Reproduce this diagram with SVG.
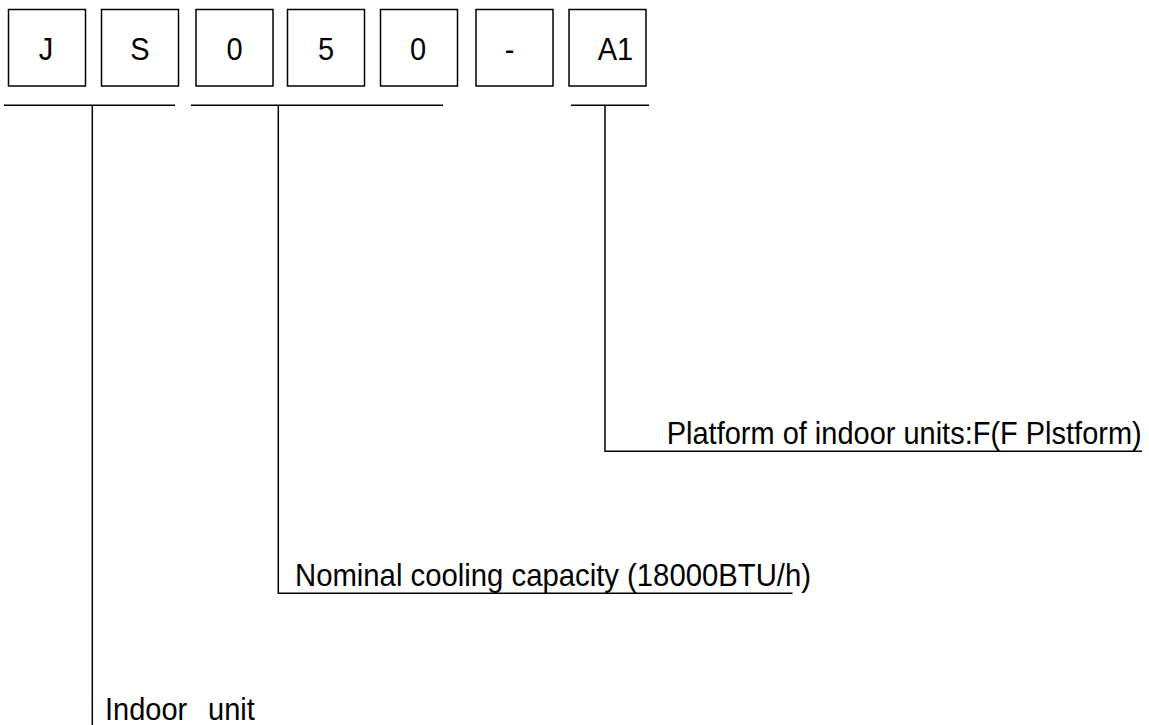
<svg xmlns="http://www.w3.org/2000/svg" width="1149" height="725" viewBox="0 0 1149 725">
<style>
.box{fill:#fff;stroke:#000;stroke-width:1.5}
.t{font-family:"Liberation Sans",Arial,sans-serif;font-size:29px;fill:#000}
.c{text-anchor:middle}
.ln{stroke:#000;stroke-width:1.5;fill:none}
</style>
<rect width="1149" height="725" fill="#fff"/>
<g id="box-J"><rect class="box" x="8.5" y="9.5" width="77" height="76.5"/><text class="t c" transform="translate(46,59.5) scale(1,1.09)">J</text></g>
<g id="box-S"><rect class="box" x="101.5" y="9.5" width="77" height="76.5"/><text class="t c" transform="translate(140,59.5) scale(1,1.09)">S</text></g>
<g id="box-0a"><rect class="box" x="196" y="9.5" width="77" height="76.5"/><text class="t c" transform="translate(234.5,59.5) scale(1,1.09)">0</text></g>
<g id="box-5"><rect class="box" x="287.5" y="9.5" width="77" height="76.5"/><text class="t c" transform="translate(326,59.5) scale(1,1.09)">5</text></g>
<g id="box-0b"><rect class="box" x="380.5" y="9.5" width="77" height="76.5"/><text class="t c" transform="translate(418,59.5) scale(1,1.09)">0</text></g>
<g id="box-dash"><rect class="box" x="476" y="9.5" width="77" height="76.5"/><text class="t c" transform="translate(509.5,59.5) scale(1,1.09)">-</text></g>
<g id="box-A1"><rect class="box" x="569" y="9.5" width="77" height="76.5"/><text class="t c" transform="translate(615.5,59.5) scale(1,1.09)">A1</text></g>
<g id="connectors">
<line class="ln" x1="4" y1="105.3" x2="175" y2="105.3"/>
<line class="ln" x1="191" y1="105.3" x2="443" y2="105.3"/>
<line class="ln" x1="571" y1="105.3" x2="649" y2="105.3"/>
<line class="ln" x1="92.3" y1="105.3" x2="92.3" y2="725"/>
<polyline class="ln" points="278.3,105.3 278.3,593.3 792.5,593.3"/>
<polyline class="ln" points="605,105.3 605,451.3 1142,451.3"/>
</g>
<g id="label-platform"><text class="t" transform="translate(666.7,444) scale(1,1.09)" textLength="475" lengthAdjust="spacingAndGlyphs">Platform of indoor units:F(F Plstform)</text></g>
<g id="label-nominal"><text class="t" transform="translate(295,586) scale(1,1.09)" textLength="516" lengthAdjust="spacingAndGlyphs">Nominal cooling capacity (18000BTU/h)</text></g>
<g id="label-indoor"><text class="t" transform="translate(105,720) scale(1,1.09)">Indoor</text><text class="t" transform="translate(208,720) scale(1,1.09)">unit</text></g>
</svg>
